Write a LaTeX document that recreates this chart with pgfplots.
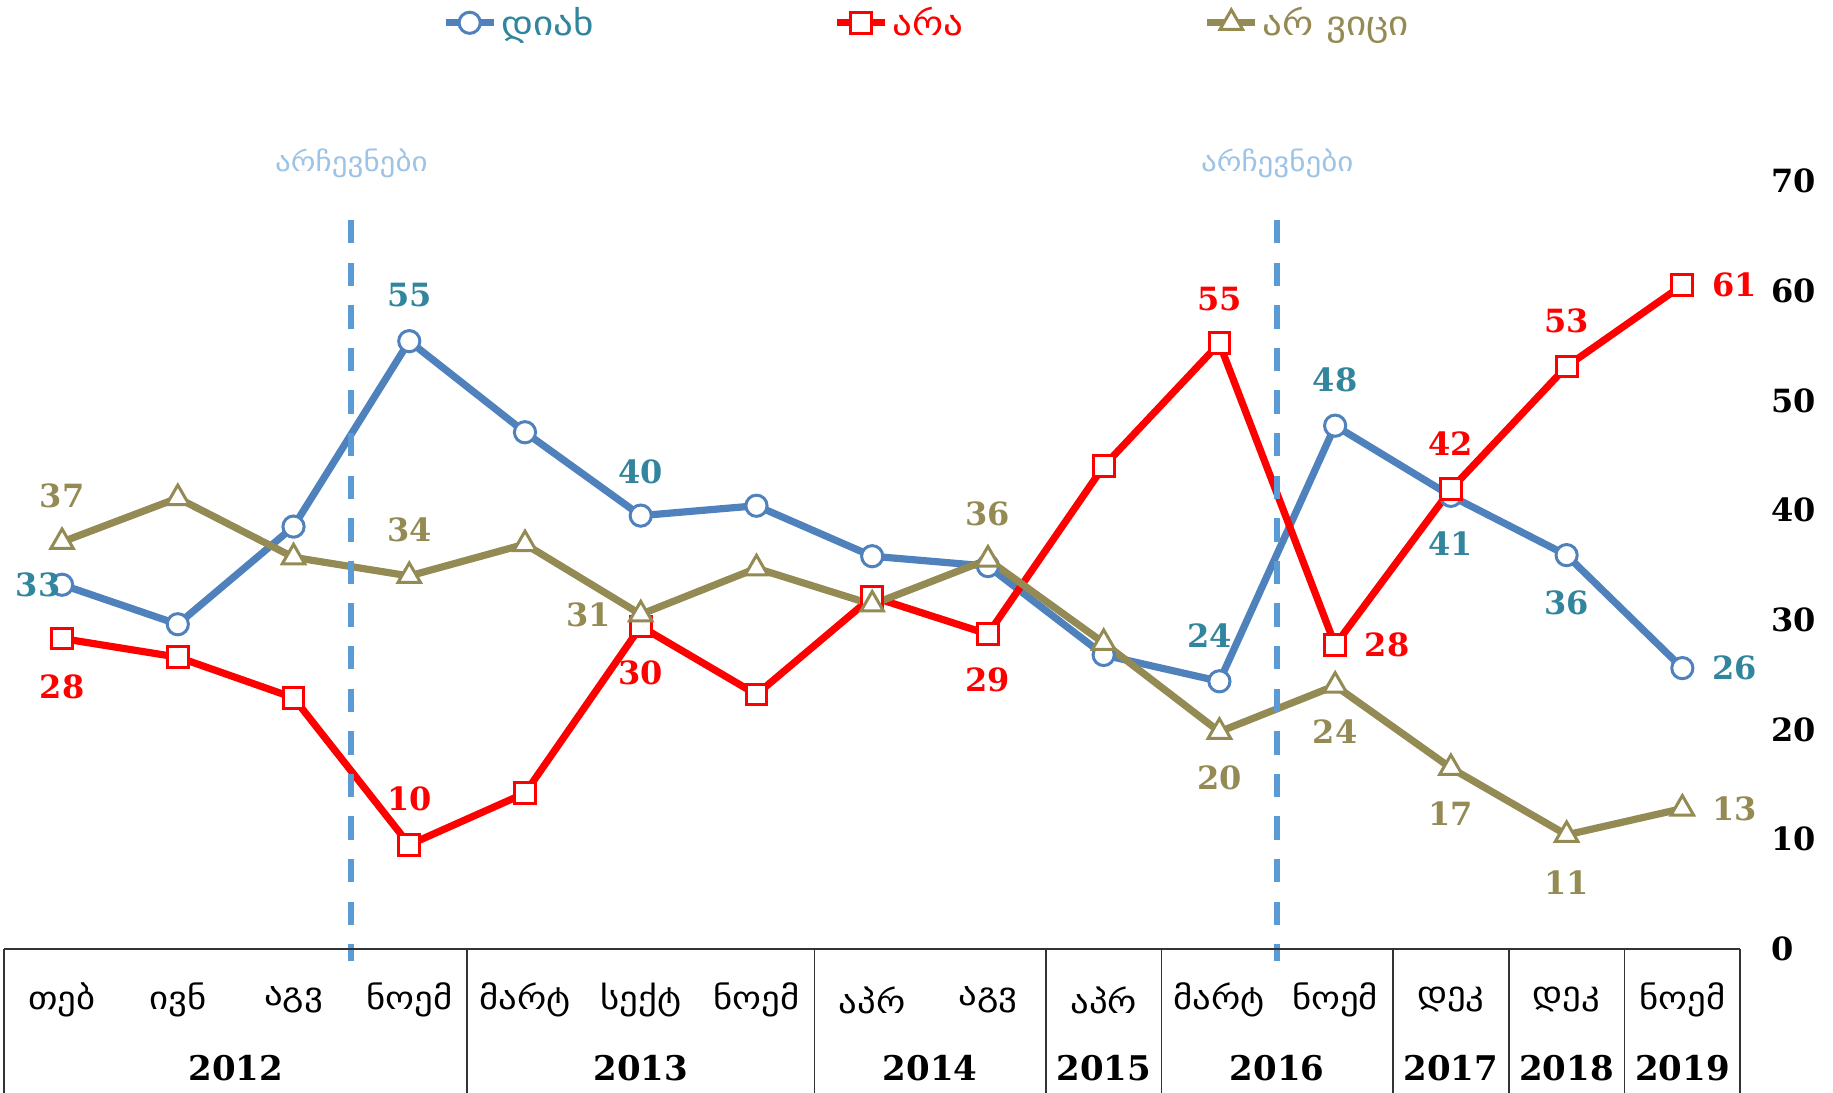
\documentclass[border=0pt]{standalone}
\usepackage{fontspec}
\usepackage{pgfplots}
\pgfplotsset{compat=1.18}
\newfontfamily\geo{DejaVu Sans}[FakeStretch=1.15]
\newfontfamily\num{DejaVu Serif}
\definecolor{cblue}{HTML}{4F81BD}
\definecolor{cteal}{HTML}{31859C}
\definecolor{cred}{HTML}{FF0000}
\definecolor{colive}{HTML}{948A54}
\definecolor{cdash}{HTML}{5B9BD5}
\definecolor{celect}{HTML}{9DC3E6}
\newcommand{\lblfont}{\num\bfseries\fontsize{16bp}{19bp}\selectfont}
\begin{document}
\begin{tikzpicture}
\begin{axis}[
  scale only axis, width=868bp, height=384bp,
  xmin=-0.5, xmax=14.5, ymin=0, ymax=70,
  clip=false,
  axis line style={draw=none},
  major tick length=0pt,
  ytick={0,10,...,70},
  yticklabel pos=right,
  /pgf/number format/assume math mode=true,
  yticklabel style={font=\num\bfseries\fontsize{16bp}{19bp}\selectfont, anchor=west, inner sep=0pt, xshift=15.5bp},
  xtick={0,...,14},
  xticklabels={თებ,ივნ,აგვ,ნოემ,მარტ,სექტ,ნოემ,აპრ,აგვ,აპრ,მარტ,ნოემ,დეკ,დეკ,ნოემ},
  xticklabel style={font=\geo\fontsize{16bp}{19bp}\selectfont, anchor=center, yshift=-25.5bp},
  extra x ticks={1.5,5,7.5,9,10.5,12,13,14},
  extra x tick labels={2012,2013,2014,2015,2016,2017,2018,2019},
  extra x tick style={xticklabel style={font=\num\bfseries\fontsize{17bp}{20bp}\selectfont, yshift=-34bp}},
  legend columns=3,
  legend style={at={(0.252,1.206)}, anchor=west, draw=none, fill=none, inner sep=0pt,
    font=\geo\fontsize{17bp}{20bp}\selectfont,
    /tikz/every even column/.append style={column sep=118bp}},
  legend image code/.code={\draw[mark repeat=2,mark phase=2,#1] plot coordinates {(0bp,0bp) (12bp,0bp) (24bp,0bp)};},
]
\addplot[cblue, line width=3.6bp, mark=*, mark size=5.3bp, mark options={fill=white, draw=cblue, line width=1.5bp}]
  coordinates {(0,33.2) (1,29.6) (2,38.5) (3,55.4) (4,47.1) (5,39.5) (6,40.4) (7,35.8) (8,34.9) (9,26.8) (10,24.4) (11,47.7) (12,41.3) (13,35.9) (14,25.6)};
\addlegendentry{\textcolor{cteal}{დიახ}}
\addplot[cred, line width=3.6bp, mark=square*, mark size=5.2bp, mark options={fill=white, draw=cred, line width=1.5bp}]
  coordinates {(0,28.3) (1,26.6) (2,22.9) (3,9.5) (4,14.2) (5,29.4) (6,23.2) (7,32.1) (8,28.7) (9,44.0) (10,55.2) (11,27.7) (12,41.9) (13,53.1) (14,60.5)};
\addlegendentry{\textcolor{cred}{არა}}
\addplot[colive, line width=3.6bp, mark=triangle*, mark size=6.5bp, mark options={fill=white, draw=colive, line width=1.5bp}]
  coordinates {(0,37.1) (1,41.1) (2,35.7) (3,34.0) (4,36.9) (5,30.5) (6,34.7) (7,31.4) (8,35.5) (9,27.9) (10,19.8) (11,24.0) (12,16.5) (13,10.4) (14,12.8)};
\addlegendentry{\textcolor{colive}{არ ვიცი}}
% data labels
\addplot[draw=none, mark=none, forget plot, nodes near coords, point meta=explicit symbolic,
  visualization depends on={value \thisrow{dx}\as\dx},
  visualization depends on={value \thisrow{dy}\as\dy},
  every node near coord/.append style={anchor=center, xshift=\dx bp, yshift=\dy bp, font=\lblfont, text=cteal}]
  table[x=x,y=y,meta=l]{
x y l dx dy
0 33.2 33 -12 0
3 55.4 55 0 23
5 39.5 40 0 22
10 24.4 24 -5 23
11 47.7 48 0 23
12 41.3 41 0 -24
13 35.9 36 0 -24
14 25.6 26 26 0
};
\addplot[draw=none, mark=none, forget plot, nodes near coords, point meta=explicit symbolic,
  visualization depends on={value \thisrow{dx}\as\dx},
  visualization depends on={value \thisrow{dy}\as\dy},
  every node near coord/.append style={anchor=center, xshift=\dx bp, yshift=\dy bp, font=\lblfont, text=cred}]
  table[x=x,y=y,meta=l]{
x y l dx dy
0 28.3 28 0 -24
3 9.5 10 0 23
5 29.4 30 0 -23
8 28.7 29 0 -23
10 55.2 55 0 22
11 27.7 28 26 0
12 41.9 42 0 23
13 53.1 53 0 23
14 60.5 61 26 0
};
\addplot[draw=none, mark=none, forget plot, nodes near coords, point meta=explicit symbolic,
  visualization depends on={value \thisrow{dx}\as\dx},
  visualization depends on={value \thisrow{dy}\as\dy},
  every node near coord/.append style={anchor=center, xshift=\dx bp, yshift=\dy bp, font=\lblfont, text=colive}]
  table[x=x,y=y,meta=l]{
x y l dx dy
0 37.1 37 0 23
3 34.0 34 0 23
5 30.5 31 -26 0
8 35.5 36 0 23
10 19.8 20 0 -23
11 24.0 24 0 -23
12 16.5 17 0 -23
13 10.4 11 0 -24
14 12.8 13 26 0
};
% election markers
\draw[cdash, line width=3bp, dash pattern=on 11.7bp off 9.6bp] (axis cs:2.5,66.45) -- ([yshift=-6bp]axis cs:2.5,0);
\draw[cdash, line width=3bp, dash pattern=on 11.7bp off 9.6bp] (axis cs:10.5,66.45) -- ([yshift=-6bp]axis cs:10.5,0);
\node[text=celect, font=\geo\fontsize{13.5bp}{16bp}\selectfont] at (axis cs:2.5,71.6) {არჩევნები};
\node[text=celect, font=\geo\fontsize{13.5bp}{16bp}\selectfont] at (axis cs:10.5,71.6) {არჩევნები};
% table lines
\draw[black!80, line width=1bp] (axis cs:-0.5,0) -- (axis cs:14.5,0);
\pgfplotsinvokeforeach{-0.5,3.5,6.5,8.5,9.5,11.5,12.5,13.5,14.5}{
  \draw[black!80, line width=0.75bp] (axis cs:#1,0) -- ([yshift=-80bp]axis cs:#1,0);
}
\end{axis}
\pgfresetboundingbox
\path[use as bounding box] (-2.1bp,-72bp) rectangle (914.4bp,474.5bp);
\end{tikzpicture}
\end{document}
